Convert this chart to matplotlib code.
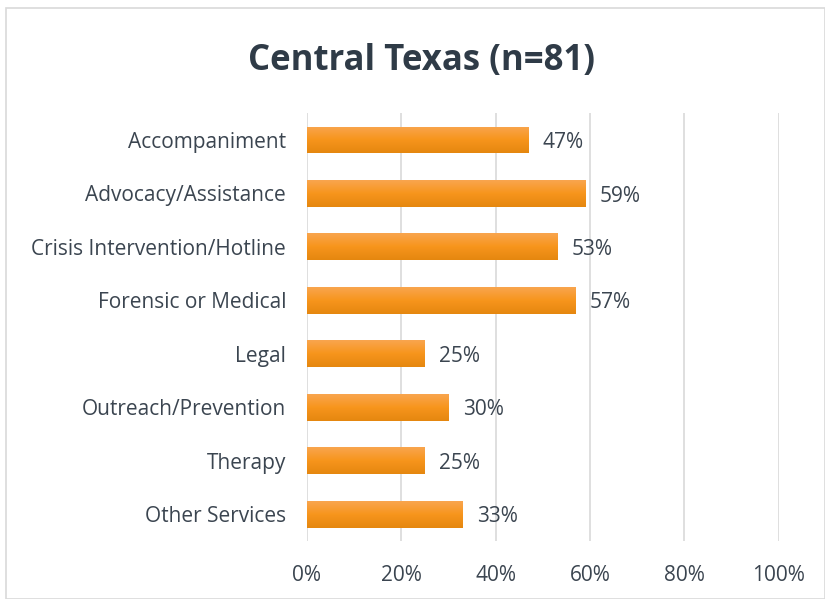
import numpy as np
import matplotlib.pyplot as plt
from matplotlib.patches import Rectangle
from matplotlib.colors import LinearSegmentedColormap


# ---------- DATA ---------- #

services = [
    "Accompaniment",
    "Advocacy/Assistance",
    "Crisis Intervention/Hotline",
    "Forensic or Medical",
    "Legal",
    "Outreach/Prevention",
    "Therapy",
    "Other Services",
]

percents = [47, 59, 53, 57, 25, 30, 25, 33]

x_ticks = [0, 20, 40, 60, 80, 100]


# ---------- FIGURE ---------- #

plt.rcParams['font.family'] = ['Open Sans', 'DejaVu Sans']
text_color = "#3b4550"
title_color = "#2f3b47"

fig = plt.figure(figsize=(8.25, 5.99), dpi=100)
ax = fig.add_axes([0.372, 0.097, 0.572, 0.714])

fig.patches.append(Rectangle((0.007, 0.0), 0.993, 0.987, transform=fig.transFigure,
                             fill=False, edgecolor="#d9d9d9", linewidth=1.2))

y = np.arange(len(services))
bars = ax.barh(y, percents, height=0.5, color="#f7941d", zorder=2)

# vertical gradient on each bar (light top, darker bottom)
grad = np.linspace(0, 1, 64).reshape(-1, 1)
cmap = LinearSegmentedColormap.from_list("bar", ["#e5870f", "#f7951c", "#f9a54e"])
for b in bars:
    x0, y0 = b.get_x(), b.get_y()
    w, h = b.get_width(), b.get_height()
    im = ax.imshow(grad, cmap=cmap, aspect="auto", extent=(x0, x0 + w, y0 + h, y0),
                   origin="lower", zorder=3)
    im.set_clip_path(b)

for yi, p in zip(y, percents):
    ax.text(p + 3, yi + 0.05, f"{p}%", va="center", ha="left", fontsize=15, color=text_color)

ax.set_xlim(0, 100)
ax.set_ylim(len(services) - 0.5, -0.5)
ax.set_yticks(y)
ax.set_yticklabels(services, fontsize=15, color=text_color)
ax.set_xticks(x_ticks)
ax.set_xticklabels([f"{t}%" for t in x_ticks], fontsize=15, color=text_color)
ax.tick_params(length=0, pad=15, axis="y")
ax.tick_params(length=0, pad=17, axis="x")

ax.grid(axis="x", color="#d9d9d9", linewidth=1.2, zorder=0)
for s in ax.spines.values():
    s.set_visible(False)

fig.text(0.511, 0.898, "Central Texas (n=81)", ha="center", va="center",
         fontsize=25, fontweight="bold", color=title_color)

fig.savefig("out.png", dpi=100)
